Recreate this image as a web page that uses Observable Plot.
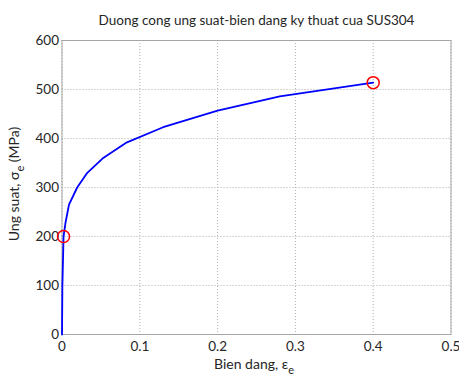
<!DOCTYPE html>
<html>
<head>
<meta charset="utf-8">
<script src="https://cdn.jsdelivr.net/npm/d3@7"></script>
<script src="https://cdn.jsdelivr.net/npm/@observablehq/plot@0.6"></script>
<style>
  html, body { margin: 0; padding: 0; background: #fff; }
  #chart svg { display: block; }
</style>
</head>
<body>
<div id="chart"></div>
<script>
const strain = [0, 0.0005, 0.002, 0.0045, 0.009, 0.0195, 0.0325, 0.052, 0.082, 0.13, 0.2, 0.28, 0.4];
const stress = [0, 100, 200, 228, 265, 300, 330, 359, 391, 423, 457, 486, 514];
const markStrain = [0.002, 0.4];
const markStress = [200, 514];
const xTicks = [0, 0.1, 0.2, 0.3, 0.4, 0.5];
const yTicks = [0, 100, 200, 300, 400, 500, 600];
const title = "Duong cong ung suat-bien dang ky thuat cua SUS304";

const curve = strain.map((s, i) => ({x: s, y: stress[i]}));
const marks = markStrain.map((s, i) => ({x: s, y: markStress[i]}));

const font = "Lato, 'Open Sans', sans-serif";
const textColor = "#262626";

const plot = Plot.plot({
  width: 459,
  height: 376,
  marginLeft: 61.5,
  marginRight: 8.5,
  marginTop: 40,
  marginBottom: 42,
  style: {fontFamily: font, fontSize: "13.5px", color: textColor, background: "#fff"},
  x: {domain: [0, 0.5], ticks: xTicks, tickSize: 0, tickPadding: 7, tickFormat: d => d === 0 ? "0" : String(d), label: null},
  y: {domain: [0, 600], ticks: yTicks, tickSize: 0, tickPadding: 3, label: null},
  marks: [
    Plot.gridX(xTicks, {stroke: "#9a9a9a", strokeOpacity: 1, strokeDasharray: "1,2", strokeWidth: 0.8}),
    Plot.gridY(yTicks, {stroke: "#9a9a9a", strokeOpacity: 1, strokeDasharray: "1,2", strokeWidth: 0.8}),
    Plot.frame({stroke: "#a6a6a6", strokeWidth: 1}),
    Plot.line(curve, {x: "x", y: "y", stroke: "#0000ff", strokeWidth: 1.8}),
    Plot.dot(marks, {x: "x", y: "y", r: 6, stroke: "#ff0000", strokeWidth: 1.5, fill: "none"}),
    Plot.text([title], {frameAnchor: "top", dy: -25, text: d => d, fontSize: 13.5, fill: textColor})
  ]
});
document.getElementById("chart").appendChild(plot);

const svg = d3.select(plot);
// x axis label with subscript
const xl = svg.append("text")
  .attr("x", 254).attr("y", 368.5)
  .attr("text-anchor", "middle")
  .attr("font-family", font).attr("font-size", 14).attr("fill", textColor);
xl.append("tspan").text("Bien dang, ε");
xl.append("tspan").attr("dy", 5).attr("font-size", 11).text("e");

// y axis label rotated with subscript
const yl = svg.append("text")
  .attr("transform", "translate(19,184) rotate(-90)")
  .attr("text-anchor", "middle")
  .attr("font-family", font).attr("font-size", 14).attr("fill", textColor);
yl.append("tspan").text("Ung suat, σ");
yl.append("tspan").attr("dy", 5).attr("font-size", 11).text("e");
yl.append("tspan").attr("dy", -5).text(" (MPa)");
</script>
</body>
</html>
